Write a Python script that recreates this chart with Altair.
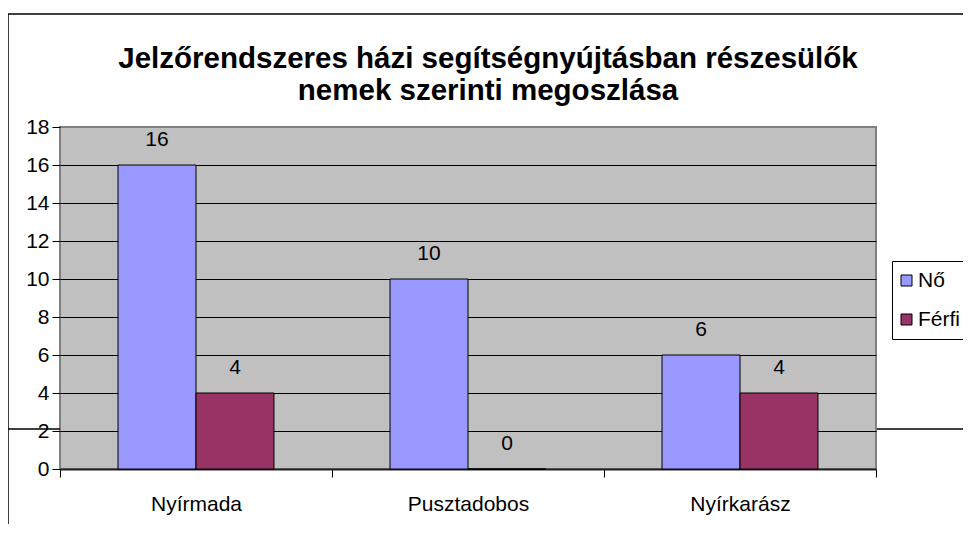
import altair as alt
import pandas as pd

categories = ["Nyírmada", "Pusztadobos", "Nyírkarász"]
series = ["Nő", "Férfi"]
no_values = [16, 10, 6]
ferfi_values = [4, 0, 4]
colors = ["#9999FF", "#993366"]
title_lines = ["Jelzőrendszeres házi segítségnyújtásban részesülők", "nemek szerinti megoszlása"]
y_ticks = [0, 2, 4, 6, 8, 10, 12, 14, 16, 18]

rows = []
for c, v in zip(categories, no_values):
    rows.append({"hely": c, "nem": series[0], "ertek": v})
for c, v in zip(categories, ferfi_values):
    rows.append({"hely": c, "nem": series[1], "ertek": v})
df = pd.DataFrame(rows)

FONT = "Liberation Sans"

x_enc = alt.X(
    "hely:N", sort=categories,
    scale=alt.Scale(paddingInner=0, paddingOuter=0),
    axis=alt.Axis(title=None, labelAngle=0, tickBand="extent", tickSize=8, tickColor="black",
                  domainColor="#222222", domainWidth=2, labelPadding=16, labelFontSize=21,
                  labelFont=FONT, labelColor="black", grid=False),
)
xo_enc = alt.XOffset("nem:N", sort=series, scale=alt.Scale(paddingInner=0, paddingOuter=0.744))
y_enc = alt.Y(
    "ertek:Q", scale=alt.Scale(domain=[0, 18], nice=False),
    axis=alt.Axis(title=None, values=y_ticks, tickSize=8, tickColor="black", labelPadding=3,
                  labelFontSize=21, labelFont=FONT, labelColor="black", domain=False,
                  grid=True, gridColor="black", gridWidth=1,
                  gridOpacity=alt.condition("datum.value >= 18 || datum.value <= 0", alt.value(0), alt.value(1))),
)

base = alt.Chart(df).encode(x=x_enc, xOffset=xo_enc, y=y_enc)

bars = base.mark_bar(stroke="black", strokeWidth=1).encode(
    color=alt.Color(
        "nem:N", sort=series,
        scale=alt.Scale(domain=series, range=colors),
        legend=alt.Legend(title=None, orient="none", legendX=832, legendY=134,
                          strokeColor="black", fillColor="white", padding=9,
                          labelFontSize=21, labelFont=FONT, labelColor="black",
                          symbolType="square", symbolSize=121, symbolStrokeColor="black",
                          symbolStrokeWidth=1, rowPadding=17, labelOffset=1, symbolOffset=-5,
                          symbolOpacity=1),
    )
)

labels = base.mark_text(baseline="alphabetic", dy=-19, fontSize=21, font=FONT, color="black").encode(
    text="ertek:Q"
)

deco_data = alt.Data(values=[{}])
top_border = alt.Chart(deco_data).mark_rule(color="black", strokeWidth=1.5).encode(
    x=alt.value(-52), x2=alt.value(911), y=alt.value(-113))
left_border = alt.Chart(deco_data).mark_rule(color="black", strokeWidth=1.5).encode(
    x=alt.value(-52), y=alt.value(-113), y2=alt.value(411))
stray_left = alt.Chart(deco_data).mark_rule(color="black", strokeWidth=1.5).encode(
    x=alt.value(-52), x2=alt.value(0), y=alt.value(302))
stray_right = alt.Chart(deco_data).mark_rule(color="black", strokeWidth=1.5).encode(
    x=alt.value(817), x2=alt.value(911), y=alt.value(302))

chart = alt.layer(top_border, left_border, stray_left, stray_right, bars, labels).properties(
    width=816, height=342,
    padding={"left": 52, "top": 119, "right": 87, "bottom": 55},
    autosize=alt.AutoSizeParams(type="none"),
    title=alt.TitleParams(text=title_lines, font=FONT, fontSize=29.5, fontWeight="bold", color="black",
                          anchor="middle", frame="group", dx=20, dy=97, lineHeight=32),
).configure(background="white").configure_view(fill="#C0C0C0", stroke="#808080", strokeWidth=2)

chart.save("out.html", embed_options={"renderer": "svg", "actions": False})
